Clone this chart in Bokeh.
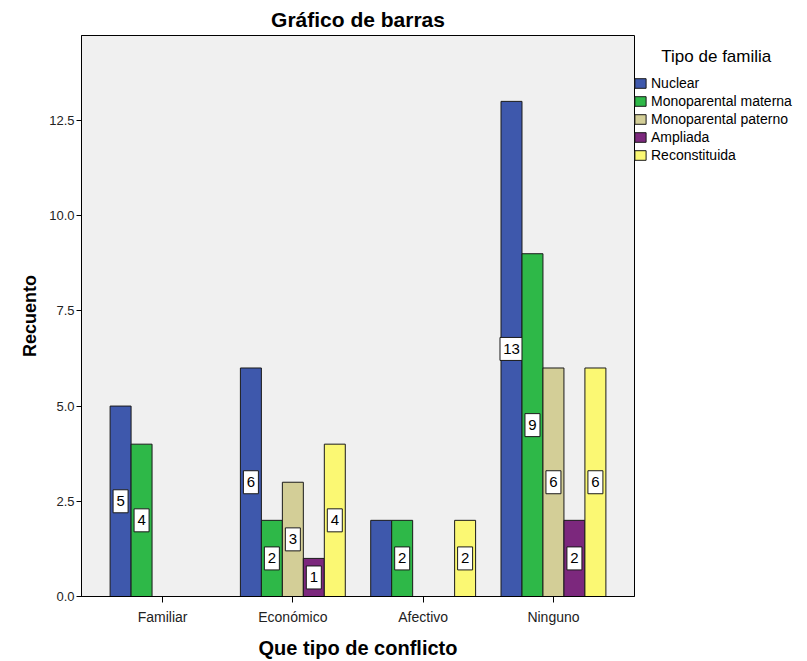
from bokeh.plotting import figure
from bokeh.models import (ColumnDataSource, FixedTicker, NumeralTickFormatter,
                          Legend, LegendItem, Range1d)
from bokeh.embed import file_html
from bokeh.resources import INLINE
from bokeh.core.properties import value

# ---- data ----
categories = ["Familiar", "Económico", "Afectivo", "Ninguno"]
series = ["Nuclear", "Monoparental materna", "Monoparental paterno",
          "Ampliada", "Reconstituida"]
nuclear = [5, 6, 2, 13]
materna = [4, 2, 2, 9]
paterno = [0, 3, 0, 6]
ampliada = [0, 1, 0, 2]
reconstituida = [0, 4, 2, 6]
# which bars carry a value label (SPSS hid one)
label_nuclear = [True, True, False, True]
label_materna = [True, True, True, True]
label_paterno = [True, True, True, True]
label_ampliada = [True, True, True, True]
label_reconstituida = [True, True, True, True]
y_ticks = [0.0, 2.5, 5.0, 7.5, 10.0, 12.5]

values = [nuclear, materna, paterno, ampliada, reconstituida]
labels_on = [label_nuclear, label_materna, label_paterno, label_ampliada,
             label_reconstituida]
colors = ["#3E58AC", "#2EB848", "#D3CE97", "#7C287D", "#FBF873"]

FONT = "Liberation Sans"

p = figure(frame_width=553, frame_height=561, output_backend="svg",
           toolbar_location=None,
           x_range=Range1d(-0.622, 3.622), y_range=Range1d(0, 14.73),
           min_border_left=81, min_border_right=0, min_border_top=35,
           min_border_bottom=60, title="Gráfico de barras")

p.background_fill_color = "#F0F0F0"
p.border_fill_color = "white"
p.outline_line_color = "black"
p.outline_line_width = 1
p.grid.visible = False

p.title.align = "center"
p.title.text_font = FONT
p.title.text_font_size = "21px"
p.title.text_font_style = "bold"
p.title.text_color = "black"
p.title.standoff = 9

bw = 0.161
items = []
for i, (name, vals, col, lab) in enumerate(zip(series, values, colors, labels_on)):
    xs = [c + (i - 2) * bw for c in range(len(categories))]
    src = ColumnDataSource(dict(x=xs, top=vals))
    r = p.vbar(x="x", top="top", width=bw, source=src, fill_color=col,
               line_color="#1a1a1a", line_width=1)
    items.append(LegendItem(label=name, renderers=[r]))
    lx, ly, lt, lw = [], [], [], []
    for x, v, on in zip(xs, vals, lab):
        if v > 0 and on:
            lx.append(x)
            ly.append(v / 2)
            lt.append(str(v))
            lw.append(7 + 8 * len(str(v)))
    lsrc = ColumnDataSource(dict(x=lx, y=ly, t=lt, w=lw))
    p.rect(x="x", y="y", width="w", height=23, width_units="screen",
           height_units="screen", source=lsrc, fill_color="white",
           line_color="#1a1a1a", line_width=1)
    p.text(x="x", y="y", text="t", source=lsrc, text_align="center",
           text_baseline="middle", text_font=value(FONT),
           text_font_size="15px", text_color="black")

# axes
p.xaxis.ticker = FixedTicker(ticks=list(range(len(categories))))
p.xaxis.major_label_overrides = {i: c for i, c in enumerate(categories)}
p.xaxis.minor_tick_line_color = None
p.xaxis.major_tick_in = 0
p.xaxis.major_tick_out = 6
p.xaxis.major_label_standoff = 6
p.xaxis.axis_label = "Que tipo de conflicto"
p.xaxis.axis_label_standoff = 9

p.yaxis.ticker = FixedTicker(ticks=y_ticks)
p.yaxis.formatter = NumeralTickFormatter(format="0.0")
p.yaxis.minor_tick_line_color = None
p.yaxis.major_tick_in = 0
p.yaxis.major_tick_out = 5
p.yaxis.major_label_standoff = 2
p.yaxis.axis_label = "Recuento"
p.yaxis.axis_label_standoff = 6

for ax in (p.xaxis[0], p.yaxis[0]):
    ax.axis_line_color = "black"
    ax.major_tick_line_color = "black"
    ax.major_label_text_font = FONT
    ax.major_label_text_color = "#222222"
    ax.axis_label_text_font = FONT
    ax.axis_label_text_font_style = "bold"
    ax.axis_label_text_color = "black"
p.xaxis.major_label_text_font_size = "14px"
p.yaxis.major_label_text_font_size = "13px"
p.xaxis.axis_label_text_font_size = "20px"
p.yaxis.axis_label_text_font_size = "18px"

legend = Legend(items=items, location=(-3, 431),
                title="\u00a0\u00a0\u00a0\u00a0\u00a0\u00a0Tipo de familia")
legend.title_text_font = FONT
legend.title_text_font_size = "17px"
legend.title_text_font_style = "normal"
legend.title_text_color = "black"
legend.title_standoff = 8
legend.label_text_font = FONT
legend.label_text_font_size = "14px"
legend.label_text_color = "black"
legend.glyph_width = 14
legend.glyph_height = 12
legend.label_height = 16
legend.label_standoff = 4
legend.spacing = 2
legend.padding = 2
legend.margin = 0
legend.border_line_alpha = 0
legend.background_fill_alpha = 0
p.add_layout(legend, "right")

open("out.html", "w").write(file_html(p, INLINE))
